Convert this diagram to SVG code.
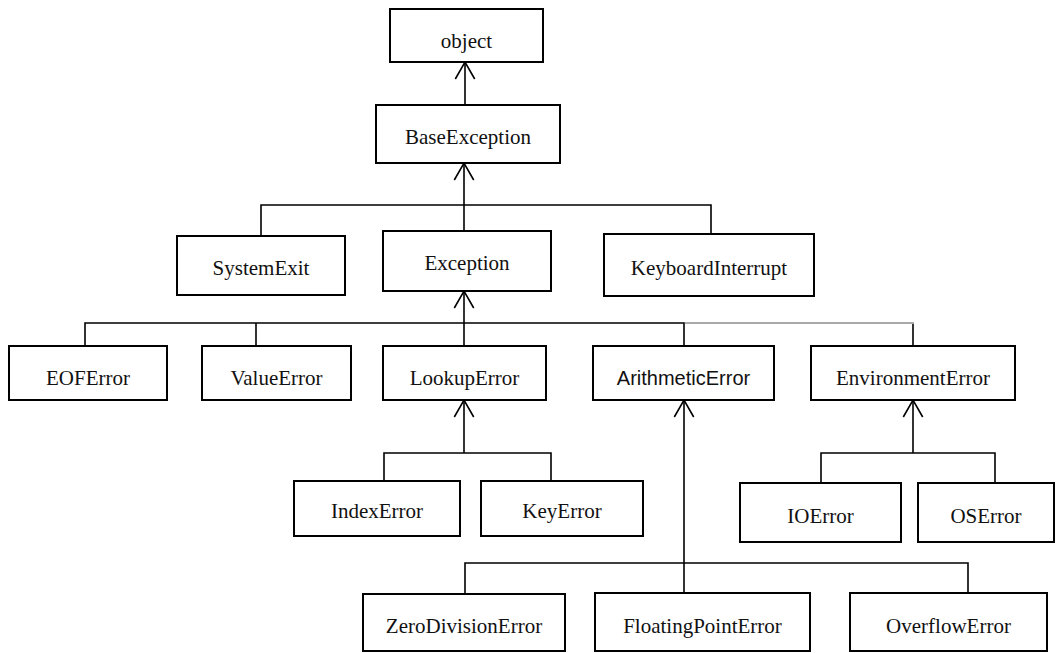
<svg xmlns="http://www.w3.org/2000/svg" width="1062" height="653" viewBox="0 0 1062 653">
<style>
  .box rect { fill: #fff; stroke: #000; stroke-width: 2; }
  .box text { font-family: "Liberation Serif", "Times New Roman", serif; font-size: 21px; fill: #111; text-anchor: middle; }
  .box text.sans { font-family: "Liberation Sans", Arial, sans-serif; font-size: 20px; }
  .conn path { fill: none; stroke: #000; stroke-width: 1.6; }
  .conn path.thin { stroke: #555; stroke-width: 1.2; }
  .conn path.arrow { marker-end: url(#open); }
</style>
<defs>
  <marker id="open" viewBox="-1 -1 20 22" markerUnits="userSpaceOnUse" markerWidth="20" markerHeight="22" refX="17" refY="10" orient="auto" overflow="visible">
    <path d="M0,0.3 L17,10 L0,19.7" fill="none" stroke="#000" stroke-width="1.6"/>
  </marker>
</defs>
<rect width="1062" height="653" fill="#fff"/>
<g id="connectors" class="conn">
  <path class="arrow" d="M465,105 V62"/>
  <path class="arrow" d="M464,231 V163"/>
  <path d="M261,236 V205 H711 V234"/>
  <path d="M85,346 V323 H684 V346"/>
  <path d="M256,323 V346"/>
  <path class="thin" d="M684,323 H914"/>
  <path d="M913,324 V346"/>
  <path class="arrow" d="M464,346 V291"/>
  <path d="M384,481 V453 H551 V481"/>
  <path class="arrow" d="M464,453 V400"/>
  <path d="M821,483 V453 H995 V483"/>
  <path class="arrow" d="M913,453 V400"/>
  <path d="M465,594 V563 H968 V593"/>
  <path class="arrow" d="M684,593 V400"/>
</g>
<g id="object" class="box"><rect x="390" y="9" width="153" height="53"/><text x="466.5" y="48">object</text></g>
<g id="BaseException" class="box"><rect x="376" y="105" width="184" height="58"/><text x="468" y="144">BaseException</text></g>
<g id="SystemExit" class="box"><rect x="177" y="236" width="168" height="59"/><text x="261" y="275">SystemExit</text></g>
<g id="Exception" class="box"><rect x="383" y="231" width="168" height="60"/><text x="467" y="270">Exception</text></g>
<g id="KeyboardInterrupt" class="box"><rect x="604" y="234" width="210" height="62"/><text x="709" y="275">KeyboardInterrupt</text></g>
<g id="EOFError" class="box"><rect x="9" y="346" width="158" height="54"/><text x="88" y="385">EOFError</text></g>
<g id="ValueError" class="box"><rect x="202" y="346" width="149" height="54"/><text x="276.5" y="385">ValueError</text></g>
<g id="LookupError" class="box"><rect x="383" y="346" width="163" height="54"/><text x="464.5" y="385">LookupError</text></g>
<g id="ArithmeticError" class="box"><rect x="593" y="346" width="181" height="54"/><text class="sans" x="683.5" y="385">ArithmeticError</text></g>
<g id="EnvironmentError" class="box"><rect x="811" y="346" width="204" height="54"/><text x="913" y="385">EnvironmentError</text></g>
<g id="IndexError" class="box"><rect x="294" y="481" width="166" height="55"/><text x="377" y="518">IndexError</text></g>
<g id="KeyError" class="box"><rect x="481" y="481" width="162" height="55"/><text x="562" y="518">KeyError</text></g>
<g id="IOError" class="box"><rect x="740" y="483" width="161" height="59"/><text x="820.5" y="523">IOError</text></g>
<g id="OSError" class="box"><rect x="918" y="483" width="136" height="59"/><text x="986" y="523">OSError</text></g>
<g id="ZeroDivisionError" class="box"><rect x="363" y="594" width="202" height="57"/><text x="464" y="633">ZeroDivisionError</text></g>
<g id="FloatingPointError" class="box"><rect x="595" y="593" width="215" height="58"/><text x="702.5" y="633">FloatingPointError</text></g>
<g id="OverflowError" class="box"><rect x="850" y="593" width="197" height="58"/><text x="948.5" y="633">OverflowError</text></g>
</svg>
